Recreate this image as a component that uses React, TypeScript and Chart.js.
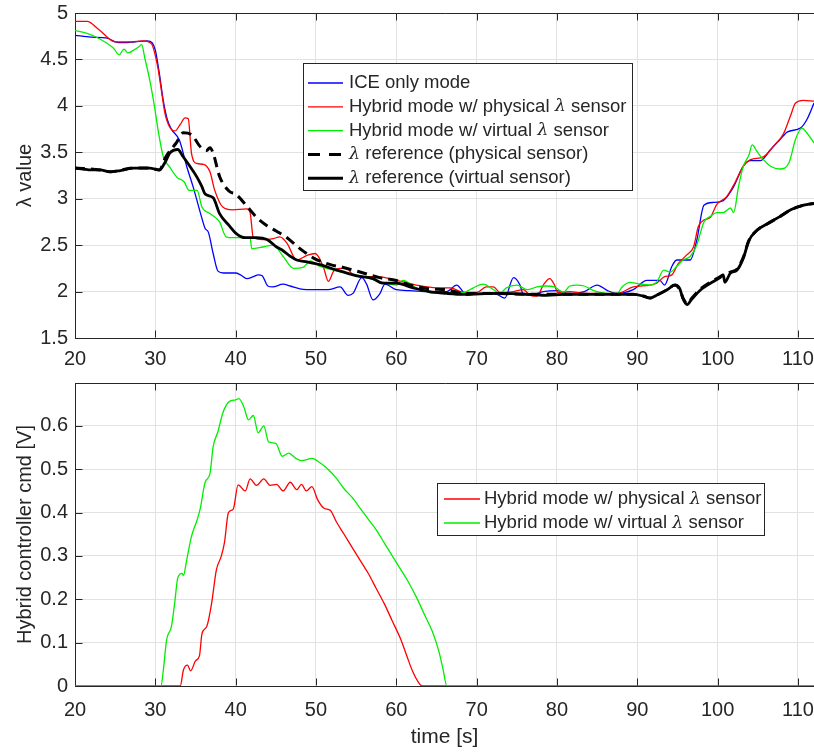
import React, { useEffect, useRef } from 'react';
import { Chart, registerables } from 'chart.js';

Chart.register(...registerables);

const TEXT = '#262626';
const GRID = '#e2e2e2';
const SANS = '"Liberation Sans", Arial, Helvetica, sans-serif';

// ---------- Top plot data (lambda value) ----------
const iceT = [20, 22, 24, 25, 26, 27.5, 29, 29.6, 30, 30.5, 31, 31.5, 32, 33, 33.9, 34.7, 35.6, 36.2, 36.6, 37.2, 37.8, 38.5, 40, 40.6, 41.4, 42.2, 42.8, 43.3, 44, 44.6, 45.9, 46.8, 48, 50.1, 51.5, 53, 54, 54.6, 55.7, 56.3, 57.1, 57.9, 58.6, 60, 61.7, 64.1, 66.3, 67.5, 68.8, 70.4, 72.5, 73.5, 74.6, 75.4, 75.8, 76.7, 78.3, 80, 81.3, 83.4, 85, 86.3, 87.5, 89.5, 91.2, 92.8, 93.4, 94.3, 94.9, 96.6, 97.4, 98.3, 99.5, 100.7, 102, 103.2, 104.1, 105.3, 106.6, 107.8, 108.7, 110.3, 111.1, 112];
const iceV = [4.76, 4.74, 4.73, 4.69, 4.68, 4.69, 4.70, 4.68, 4.60, 4.35, 4.05, 3.85, 3.75, 3.63, 3.35, 3.13, 2.85, 2.68, 2.64, 2.41, 2.22, 2.20, 2.20, 2.18, 2.14, 2.16, 2.18, 2.17, 2.06, 2.05, 2.08, 2.06, 2.03, 2.02, 2.02, 2.05, 1.96, 1.98, 2.15, 2.08, 1.91, 1.97, 2.08, 2.02, 2.01, 2.00, 2.00, 2.07, 1.96, 1.98, 1.97, 1.93, 2.15, 2.07, 1.97, 1.96, 2.00, 2.01, 1.98, 2.00, 2.07, 2.01, 1.98, 2.02, 2.12, 2.12, 2.07, 2.27, 2.34, 2.34, 2.55, 2.93, 2.96, 2.98, 3.13, 3.35, 3.41, 3.41, 3.53, 3.64, 3.72, 3.76, 3.85, 4.03];

const physT = [20, 21.5, 23, 25, 27, 28.5, 29.5, 30.3, 30.8, 31.2, 31.8, 32.45, 33.1, 33.7, 34.1, 34.5, 35.15, 36, 36.8, 37.4, 38.4, 39.6, 41.4, 41.8, 42.2, 43.4, 44.7, 45.5, 46.4, 47.6, 48.9, 49.9, 50.9, 51.55, 52.2, 53, 53.8, 54.6, 55.9, 57.6, 60, 62.5, 65, 66.7, 68.4, 70, 71.2, 72.1, 72.9, 74.6, 75.8, 76.7, 77.5, 78.3, 79.1, 79.7, 80.1, 81.6, 83.4, 87.5, 89.5, 91.6, 92.4, 93.4, 94.3, 95.1, 96.1, 97, 97.6, 98.3, 99.1, 99.9, 101.1, 102.2, 103.2, 104.1, 105.7, 107, 108.2, 109.1, 109.7, 110.7, 112];
const physV = [4.91, 4.91, 4.82, 4.69, 4.69, 4.70, 4.67, 4.42, 4.14, 3.92, 3.77, 3.73, 3.80, 3.87, 3.86, 3.49, 3.38, 3.37, 3.29, 3.09, 2.91, 2.88, 2.89, 2.85, 2.58, 2.56, 2.57, 2.59, 2.52, 2.34, 2.39, 2.41, 2.27, 2.11, 2.22, 2.25, 2.25, 2.18, 2.16, 2.16, 2.12, 2.07, 2.04, 2.04, 1.99, 1.99, 2.05, 2.05, 1.99, 2.00, 2.02, 1.96, 1.95, 2.07, 2.14, 2.07, 1.99, 2.00, 1.98, 1.98, 2.05, 2.07, 2.09, 2.16, 2.18, 2.30, 2.39, 2.48, 2.70, 2.77, 2.80, 2.94, 3.02, 3.18, 3.35, 3.42, 3.45, 3.57, 3.70, 3.90, 4.03, 4.06, 4.05];

const virtT = [20, 21.5, 23.1, 24.8, 25.5, 26.1, 26.6, 27.3, 28, 28.3, 28.7, 29.3, 29.9, 30.4, 31, 31.8, 32.7, 33.6, 34.2, 35.2, 35.8, 36.8, 38, 38.8, 39.6, 41.8, 42, 43.4, 44.7, 45.9, 47.2, 48.4, 49.3, 50.5, 51.8, 53.8, 55.9, 57.9, 60, 60.8, 62.5, 64.1, 66.3, 68.4, 69.6, 70.8, 72.1, 72.9, 73.7, 75, 76.3, 77.5, 78.7, 79.7, 80.8, 81.6, 82.5, 83.4, 84.6, 86.3, 87.5, 88.1, 89.1, 90.4, 91.6, 92.4, 93.3, 94.1, 94.9, 95.7, 96.6, 97.4, 98.3, 99.1, 99.9, 100.7, 101.6, 102, 102.6, 103.2, 103.9, 104.3, 104.9, 105.5, 106.6, 107.8, 108.9, 109.7, 110.5, 111.1, 112];
const virtV = [4.81, 4.78, 4.72, 4.62, 4.55, 4.61, 4.57, 4.60, 4.64, 4.66, 4.51, 4.28, 3.99, 3.71, 3.45, 3.34, 3.23, 3.18, 3.09, 3.09, 2.91, 2.84, 2.75, 2.59, 2.58, 2.58, 2.46, 2.48, 2.50, 2.38, 2.25, 2.26, 2.33, 2.27, 2.24, 2.20, 2.16, 2.11, 2.07, 2.12, 2.04, 1.99, 1.98, 1.99, 2.04, 2.08, 2.02, 1.98, 2.04, 2.07, 2.02, 2.05, 2.06, 2.05, 1.99, 2.06, 2.07, 2.06, 2.01, 1.98, 1.98, 2.05, 2.10, 2.08, 2.07, 2.10, 2.23, 2.21, 2.27, 2.34, 2.38, 2.50, 2.75, 2.81, 2.85, 2.85, 2.90, 2.85, 3.13, 3.35, 3.47, 3.58, 3.51, 3.44, 3.35, 3.32, 3.39, 3.64, 3.76, 3.71, 3.60];

const refPhysT = [20, 23.1, 24.4, 27.3, 29.3, 30.5, 31.3, 32.6, 33.5, 34.5, 35.6, 36.4, 36.8, 37.2, 38, 39.2, 40, 41.4, 42.6, 43.9, 45.1, 46.4, 47.6, 48.5, 49.7, 51.8, 53.4, 55.9, 57.9, 60, 62.1, 64.1, 66.3, 68.4, 72.5, 76.7, 80.8, 83.4, 87.5, 89.5, 90.8, 91.6, 92.4, 93.7, 94.7, 95.3, 95.7, 96.2, 96.8, 97.9, 99.1, 100.3, 100.9, 101.6, 102.4, 103.2, 103.9, 104.9, 106.2, 107.8, 109.1, 110.7, 112];
const refPhysV = [3.33, 3.31, 3.29, 3.33, 3.33, 3.31, 3.45, 3.60, 3.71, 3.69, 3.56, 3.52, 3.55, 3.49, 3.24, 3.08, 3.05, 2.92, 2.80, 2.71, 2.65, 2.58, 2.49, 2.43, 2.36, 2.29, 2.26, 2.20, 2.15, 2.12, 2.06, 2.03, 2.02, 1.98, 1.98, 1.97, 1.97, 1.97, 1.97, 1.97, 1.95, 1.93, 1.96, 2.02, 2.07, 2.02, 1.93, 1.87, 1.93, 2.03, 2.10, 2.16, 2.19, 2.21, 2.24, 2.37, 2.55, 2.66, 2.73, 2.81, 2.88, 2.93, 2.95];

const refVirtT = [20, 21, 22, 23.1, 24.4, 25.5, 27.3, 29.3, 30.5, 31.2, 31.8, 32.8, 33.4, 34.3, 35.2, 35.8, 36.2, 37.2, 38, 39.2, 40, 41.2, 42.6, 43.9, 45.1, 45.9, 46.8, 47.6, 48.9, 50.5, 52.6, 55.1, 57.1, 58.3, 60, 62.1, 64.1, 66.3, 68.4, 72.5, 76.7, 78.7, 80.8, 83.4, 87.5, 89.5, 90.8, 91.6, 92.4, 93.7, 94.7, 95.3, 95.7, 96.2, 96.8, 97.9, 99.1, 100.3, 100.7, 100.9, 101.6, 102.4, 103.2, 103.9, 104.9, 106.2, 107.8, 109.1, 110.7, 112];
const refVirtV = [3.33, 3.32, 3.31, 3.31, 3.29, 3.30, 3.33, 3.33, 3.31, 3.39, 3.49, 3.53, 3.46, 3.35, 3.23, 3.13, 3.05, 3.01, 2.84, 2.71, 2.63, 2.58, 2.58, 2.56, 2.48, 2.44, 2.38, 2.34, 2.32, 2.29, 2.23, 2.17, 2.14, 2.09, 2.09, 2.04, 2.00, 1.98, 1.97, 1.98, 1.97, 1.96, 1.97, 1.97, 1.97, 1.97, 1.95, 1.93, 1.96, 2.02, 2.07, 2.03, 1.92, 1.86, 1.92, 2.02, 2.09, 2.15, 2.18, 2.10, 2.20, 2.23, 2.36, 2.55, 2.66, 2.73, 2.81, 2.88, 2.93, 2.95];

// ---------- Bottom plot data (controller command) ----------
const cmdPhysT = [20, 33.1, 33.5, 34, 34.4, 35, 35.5, 35.8, 36.4, 37, 37.6, 38.2, 38.6, 39.1, 39.7, 40.3, 41.2, 41.8, 42.6, 43.5, 44.3, 45.1, 45.9, 46.8, 47.6, 48.2, 48.8, 49.5, 50.2, 51, 51.8, 52.5, 53.5, 54.5, 55.5, 56.5, 57.5, 58.5, 59.5, 60.5, 61.3, 62, 62.7, 63.2, 112];
const cmdPhysV = [0, 0, 0.037, 0.048, 0.035, 0.058, 0.07, 0.12, 0.137, 0.19, 0.268, 0.299, 0.33, 0.40, 0.408, 0.464, 0.45, 0.478, 0.463, 0.478, 0.463, 0.465, 0.45, 0.47, 0.453, 0.465, 0.45, 0.46, 0.43, 0.41, 0.405, 0.38, 0.35, 0.32, 0.29, 0.26, 0.225, 0.19, 0.15, 0.11, 0.07, 0.035, 0.01, 0, 0];

const cmdVirtT = [20, 30.7, 31, 31.4, 32, 32.4, 32.8, 33.3, 33.5, 33.9, 34.5, 35.2, 35.6, 36.2, 36.8, 37.2, 37.8, 38.4, 39.2, 40, 40.4, 41, 41.6, 42.2, 42.8, 43.5, 44.1, 45, 45.8, 46.6, 47.5, 48.2, 49.5, 50.5, 51.5, 52.5, 53.5, 54.5, 55.5, 56.5, 57.5, 58.5, 59.5, 60.5, 61.5, 62.5, 63.5, 64.5, 65.3, 65.8, 66.3, 112];
const cmdVirtV = [0, 0, 0.037, 0.106, 0.137, 0.19, 0.25, 0.26, 0.255, 0.29, 0.345, 0.383, 0.41, 0.47, 0.49, 0.552, 0.587, 0.63, 0.656, 0.66, 0.663, 0.645, 0.614, 0.624, 0.584, 0.60, 0.563, 0.56, 0.53, 0.537, 0.525, 0.52, 0.525, 0.515, 0.50, 0.48, 0.455, 0.435, 0.41, 0.385, 0.36, 0.33, 0.30, 0.27, 0.24, 0.205, 0.165, 0.125, 0.08, 0.04, 0, 0];

// ---------- Axes ----------
const xMin = 20;
const xMax = 112;
const xStep = 10;
const topYMin = 1.5;
const topYMax = 5;
const topYStep = 0.5;
const botYMin = 0;
const botYMax = 0.699;
const botYStep = 0.1;

const topLegendLabels = [
  'ICE only mode',
  'Hybrid mode w/ physical λ sensor',
  'Hybrid mode w/ virtual λ sensor',
  'λ reference (physical sensor)',
  'λ reference (virtual sensor)',
];
const botLegendLabels = ['Hybrid mode w/ physical λ sensor', 'Hybrid mode w/ virtual λ sensor'];

const BLUE = '#0000ff';
const RED = '#ff0000';
const GREEN = '#00ee00';
const BLACK = '#000000';

const pts = (t: number[], v: number[]) => t.map((x, i) => ({ x, y: v[i] }));
const fmt = (v: any) => String(Math.round(Number(v) * 1000) / 1000);

function drawMixed(ctx: CanvasRenderingContext2D, text: string, x: number, y: number, size: number) {
  const parts = text.split('λ');
  let cx = x;
  parts.forEach((p, i) => {
    if (i > 0) {
      ctx.font = `italic ${size * 0.95}px "DejaVu Serif", serif`;
      ctx.fillText('λ', cx, y);
      cx += ctx.measureText('λ').width;
    }
    ctx.font = `${size}px ${SANS}`;
    ctx.fillText(p, cx, y);
    cx += ctx.measureText(p).width;
  });
}

const matlabPlugin = {
  id: 'matlabAxes',
  afterDraw(chart: any) {
    const ctx: CanvasRenderingContext2D = chart.ctx;
    const { left, right, top, bottom } = chart.chartArea;
    const xs = chart.scales.x;
    const ys = chart.scales.y;
    ctx.save();
    ctx.strokeStyle = TEXT;
    ctx.lineWidth = 1;
    const L = Math.round(left) + 0.5;
    const T = Math.round(top) + 0.5;
    const B = Math.round(bottom) - 0.5;
    ctx.beginPath();
    ctx.moveTo(L, T);
    ctx.lineTo(right + 2, T);
    ctx.stroke();
    const tl = 7;
    ctx.beginPath();
    xs.ticks.forEach((tk: any) => {
      const px = Math.round(xs.getPixelForValue(tk.value)) + 0.5;
      ctx.moveTo(px, B);
      ctx.lineTo(px, B - tl);
      ctx.moveTo(px, T);
      ctx.lineTo(px, T + tl);
    });
    ys.ticks.forEach((tk: any) => {
      const py = Math.round(ys.getPixelForValue(tk.value)) + 0.5;
      ctx.moveTo(L, py);
      ctx.lineTo(L + tl, py);
    });
    ctx.stroke();

    const lg = chart.options.plugins.mlLegend;
    if (lg) {
      const [x0, y0, x1, y1] = lg.box;
      ctx.fillStyle = '#ffffff';
      ctx.fillRect(x0, y0, x1 - x0, y1 - y0);
      ctx.strokeStyle = TEXT;
      ctx.lineWidth = 1;
      ctx.strokeRect(x0 + 0.5, y0 + 0.5, x1 - x0 - 1, y1 - y0 - 1);
      lg.items.forEach((it: any, i: number) => {
        const y = lg.rowY + i * lg.rowStep;
        ctx.save();
        ctx.strokeStyle = it.color;
        ctx.lineWidth = it.width;
        ctx.setLineDash(it.dash || []);
        ctx.beginPath();
        ctx.moveTo(lg.lineX0, y);
        ctx.lineTo(lg.lineX1, y);
        ctx.stroke();
        ctx.restore();
        ctx.fillStyle = TEXT;
        ctx.textBaseline = 'middle';
        ctx.textAlign = 'left';
        drawMixed(ctx, it.label, lg.textX, y, lg.size);
      });
    }
    ctx.restore();
  },
};

function lineDs(label: string, data: any[], color: string, width: number, order: number, dash?: number[]) {
  return {
    label,
    data,
    borderColor: color,
    backgroundColor: color,
    borderWidth: width,
    borderDash: dash || [],
    pointRadius: 0,
    fill: false,
    cubicInterpolationMode: 'monotone' as const,
    order,
  };
}

function baseOptions(yMin: number, yMax: number, yStep: number, yTitle: string, xHeight: number, xTitle: boolean, tickPad: number) {
  return {
    animation: false as const,
    responsive: false,
    devicePixelRatio: 1,
    events: [] as any[],
    scales: {
      x: {
        type: 'linear' as const,
        min: xMin,
        max: xMax,
        ticks: {
          stepSize: xStep,
          includeBounds: false,
          padding: tickPad,
          color: TEXT,
          font: { family: SANS, size: 20 },
          maxRotation: 0,
          autoSkip: false,
          callback: fmt,
        },
        grid: { color: GRID, lineWidth: 1, drawTicks: false },
        border: { display: true, color: TEXT, width: 1 },
        title: {
          display: xTitle,
          text: 'time [s]',
          color: TEXT,
          font: { family: SANS, size: 21 },
          padding: { top: 0, bottom: 3 },
        },
        afterFit: (s: any) => {
          s.height = xHeight;
          s.paddingLeft = 0;
          s.paddingRight = 0;
        },
      },
      y: {
        type: 'linear' as const,
        min: yMin,
        max: yMax,
        ticks: {
          stepSize: yStep,
          includeBounds: false,
          padding: 7,
          color: TEXT,
          font: { family: SANS, size: 20 },
          callback: fmt,
        },
        grid: { color: GRID, lineWidth: 1, drawTicks: false },
        border: { display: true, color: TEXT, width: 1 },
        title: {
          display: true,
          text: yTitle,
          color: TEXT,
          font: { family: SANS, size: 20 },
          padding: { top: 13, bottom: 0 },
        },
        afterFit: (s: any) => {
          s.width = 75;
          s.paddingTop = 0;
          s.paddingBottom = 0;
        },
      },
    },
  };
}

export default function App() {
  const topRef = useRef<HTMLCanvasElement>(null);
  const botRef = useRef<HTMLCanvasElement>(null);

  useEffect(() => {
    const topOpts: any = baseOptions(topYMin, topYMax, topYStep, 'λ value', 37, false, 9);
    topOpts.layout = { padding: { top: 13, right: 0, bottom: 0, left: 0 } };
    topOpts.plugins = {
      legend: { display: false },
      tooltip: { enabled: false },
      mlLegend: {
        box: [303, 63, 633, 191],
        rowY: 83,
        rowStep: 23.8,
        lineX0: 308,
        lineX1: 343,
        textX: 349,
        size: 18.5,
        items: [
          { label: topLegendLabels[0], color: BLUE, width: 1.3 },
          { label: topLegendLabels[1], color: RED, width: 1.3 },
          { label: topLegendLabels[2], color: GREEN, width: 1.3 },
          { label: topLegendLabels[3], color: BLACK, width: 3, dash: [12, 9] },
          { label: topLegendLabels[4], color: BLACK, width: 3 },
        ],
      },
    };
    const c1 = new Chart(topRef.current as HTMLCanvasElement, {
      type: 'line',
      data: {
        datasets: [
          lineDs(topLegendLabels[0], pts(iceT, iceV), BLUE, 1.3, 4),
          lineDs(topLegendLabels[1], pts(physT, physV), RED, 1.3, 3),
          lineDs(topLegendLabels[2], pts(virtT, virtV), GREEN, 1.3, 2),
          lineDs(topLegendLabels[3], pts(refPhysT, refPhysV), BLACK, 3, 1, [10, 6]),
          lineDs(topLegendLabels[4], pts(refVirtT, refVirtV), BLACK, 2.8, 0),
        ],
      },
      options: topOpts,
      plugins: [matlabPlugin],
    } as any);

    const botOpts: any = baseOptions(botYMin, botYMax, botYStep, 'Hybrid controller cmd [V]', 67, true, 12);
    botOpts.layout = { padding: { top: 8, right: 0, bottom: 0, left: 0 } };
    botOpts.plugins = {
      legend: { display: false },
      tooltip: { enabled: false },
      mlLegend: {
        box: [437, 108, 765, 161],
        rowY: 124,
        rowStep: 24,
        lineX0: 444,
        lineX1: 480,
        textX: 484,
        size: 18.5,
        items: [
          { label: botLegendLabels[0], color: RED, width: 1.3 },
          { label: botLegendLabels[1], color: GREEN, width: 1.3 },
        ],
      },
    };
    const c2 = new Chart(botRef.current as HTMLCanvasElement, {
      type: 'line',
      data: {
        datasets: [
          lineDs(botLegendLabels[0], pts(cmdPhysT, cmdPhysV), RED, 1.3, 1),
          lineDs(botLegendLabels[1], pts(cmdVirtT, cmdVirtV), GREEN, 1.3, 0),
        ],
      },
      options: botOpts,
      plugins: [matlabPlugin],
    } as any);

    return () => {
      c1.destroy();
      c2.destroy();
    };
  }, []);

  return (
    <div style={{ position: 'absolute', left: 0, top: 0, width: 814, height: 753, background: '#ffffff', overflow: 'hidden' }}>
      <canvas ref={topRef} width={814} height={375} style={{ position: 'absolute', left: 0, top: 0, width: 814, height: 375 }} />
      <canvas ref={botRef} width={814} height={378} style={{ position: 'absolute', left: 0, top: 375, width: 814, height: 378 }} />
    </div>
  );
}
